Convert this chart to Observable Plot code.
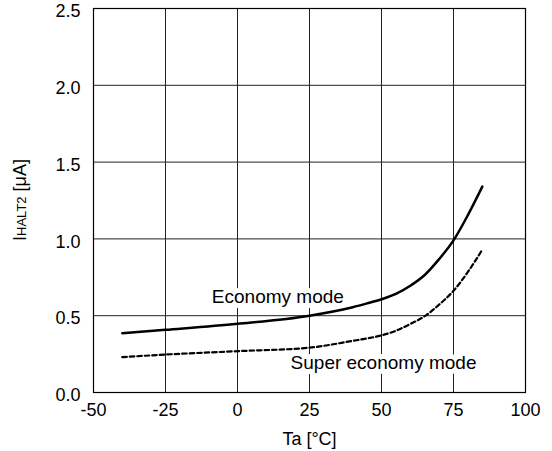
<!DOCTYPE html>
<html><head><meta charset="utf-8">
<script src="https://cdn.jsdelivr.net/npm/d3@7"></script>
<script src="https://cdn.jsdelivr.net/npm/@observablehq/plot@0.6"></script>
<style>body{margin:0;background:#fff}</style>
</head><body><div id="chart"></div>
<script>
const temps = [-40, -25, 0, 25, 40, 45, 50, 55, 60, 65, 70, 75, 80, 85];
const economy = [0.386, 0.408, 0.447, 0.50, 0.555, 0.58, 0.607, 0.642, 0.695, 0.765, 0.868, 0.99, 1.155, 1.34];
const superEconomy = [0.23, 0.247, 0.269, 0.292, 0.336, 0.352, 0.372, 0.402, 0.446, 0.497, 0.572, 0.662, 0.785, 0.93];
const xTicks = [-50, -25, 0, 25, 50, 75, 100];
const yTicks = [0, 0.5, 1.0, 1.5, 2.0, 2.5];
const labelText = ["Economy mode", "Super economy mode"];
const labelX = [14, 50.7];
const labelY = [0.625, 0.19];

const ecoData = temps.map((t, i) => ({t, v: economy[i]}));
const supData = temps.map((t, i) => ({t, v: superEconomy[i]}));
const labData = labelText.map((s, i) => ({s, x: labelX[i], y: labelY[i]}));

const plot = Plot.plot({
  width: 552, height: 451,
  marginLeft: 93, marginRight: 27, marginTop: 8, marginBottom: 59,
  style: {fontFamily: "'Liberation Sans', Arial, sans-serif", fontSize: "18px", background: "#fff", color: "#000"},
  x: {domain: [-50, 100]},
  y: {domain: [0, 2.5]},
  marks: [
    Plot.gridX(xTicks, {stroke: "#222", strokeOpacity: 1, strokeWidth: 1}),
    Plot.gridY(yTicks, {stroke: "#222", strokeOpacity: 1, strokeWidth: 1}),
    Plot.frame({stroke: "#000", strokeWidth: 1.2}),
    Plot.line(ecoData, {x: "t", y: "v", stroke: "#000", strokeWidth: 2.5, curve: "monotone-x"}),
    Plot.line(supData, {x: "t", y: "v", stroke: "#000", strokeWidth: 2.2, strokeDasharray: "4.5,3", curve: "monotone-x"}),
    Plot.text(labData, {x: "x", y: "y", text: "s", fill: "#000", stroke: "#fff", strokeWidth: 10, fontSize: 19}),
    Plot.axisX({ticks: xTicks, tickSize: 0, tickPadding: 11, tickFormat: d => String(d), label: "Ta [°C]", labelAnchor: "center", labelArrow: "none", labelOffset: 52}),
    Plot.axisY({ticks: yTicks, tickSize: 0, tickPadding: 13, dy: 3, tickFormat: d => d.toFixed(1), label: null})
  ]
});

const svg = d3.select(plot);
const t = svg.append("text")
  .attr("transform", "translate(26,200) rotate(-90)")
  .attr("text-anchor", "middle")
  .attr("font-size", 18)
  .attr("fill", "#000");
t.append("tspan").text("I");
t.append("tspan").attr("font-size", 13).text("HALT2");
t.append("tspan").text(" [μA]");

document.getElementById("chart").appendChild(plot);
</script>
</body></html>
